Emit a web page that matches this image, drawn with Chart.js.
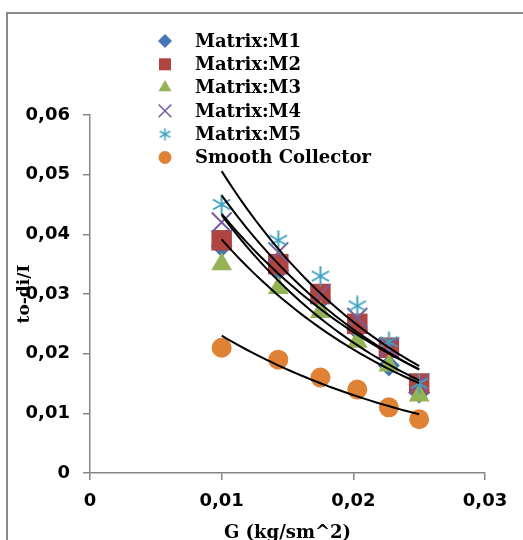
<!DOCTYPE html>
<html>
<head>
<meta charset="utf-8">
<script src="https://cdn.jsdelivr.net/npm/chart.js@4.4.1/dist/chart.umd.min.js"></script>
<style>
  html, body { margin: 0; padding: 0; background: #fff; overflow: hidden; }
  canvas { display: block; }
</style>
</head>
<body>
<canvas id="chart" width="523" height="540"></canvas>
<script>
// mass flux G and the measured ratio for each collector
const gValues = [0.01, 0.0143, 0.0175, 0.0203, 0.0227, 0.025]
const m1 = [0.038, 0.034, 0.029, 0.024, 0.018, 0.0135]
const m2 = [0.039, 0.035, 0.030, 0.025, 0.021, 0.015]
const m3 = [0.035, 0.031, 0.027, 0.022, 0.018, 0.013]
const m4 = [0.042, 0.037, 0.030, 0.026, 0.021, 0.015]
const m5 = [0.045, 0.039, 0.033, 0.028, 0.022, 0.015]
const smooth = [0.021, 0.019, 0.016, 0.014, 0.011, 0.009]
const seriesNames = ['Matrix:M1', 'Matrix:M2', 'Matrix:M3', 'Matrix:M4', 'Matrix:M5', 'Smooth Collector']
const xTickLabels = ['0', '0,01', '0,02', '0,03']
const yTickLabels = ['0', '0,01', '0,02', '0,03', '0,04', '0,05', '0,06']

const serif = '"DejaVu Serif", serif'
const sans = '"DejaVu Sans", Verdana, sans-serif'

// six-armed asterisk marker (vertical bar + two 30 degree arms)
function asterisk(size, color, lw) {
    const c = document.createElement('canvas')
    c.width = c.height = size
    const g = c.getContext('2d')
    const h = size / 2, r = h - 0.5
    g.strokeStyle = color
    g.lineWidth = lw
    g.beginPath()
    g.moveTo(h, h - r); g.lineTo(h, h + r)
    const dx = r * Math.cos(Math.PI / 6), dy = r * Math.sin(Math.PI / 6)
    g.moveTo(h - dx, h - dy); g.lineTo(h + dx, h + dy)
    g.moveTo(h - dx, h + dy); g.lineTo(h + dx, h - dy)
    g.stroke()
    return c
}

// least squares exponential trend y = a*e^(b*x), sampled over the data range
function expTrend(xs, ys) {
    const n = xs.length
    const ly = ys.map(Math.log)
    const mx = xs.reduce((s, v) => s + v, 0) / n
    const my = ly.reduce((s, v) => s + v, 0) / n
    let sxy = 0, sxx = 0
    xs.forEach((x, i) => { sxy += (x - mx) * (ly[i] - my); sxx += (x - mx) * (x - mx) })
    const b = sxy / sxx
    const a = Math.exp(my - b * mx)
    const lo = Math.min(...xs), hi = Math.max(...xs)
    const pts = []
    for (let k = 0; k <= 40; k++) {
        const x = lo + (hi - lo) * k / 40
        pts.push({ x: x, y: a * Math.exp(b * x) })
    }
    return pts
}

const colors = ['#4676B5', '#B0443F', '#93B354', '#7A5C9C', '#40A3C0', '#E08236']
const star = asterisk(21, colors[4], 2)
const starSmall = asterisk(13, colors[4], 1.6)

const series = [
    { data: m1, style: 'rectRot', radius: 11, legendRadius: 7, order: 6 },
    { data: m2, style: 'rect', radius: 14.5, legendRadius: 8.5, order: 5 },
    { data: m3, style: 'triangle', radius: 12, legendRadius: 7.5, order: 4 },
    { data: m4, style: 'crossRot', radius: 14, legendRadius: 9, order: 3 },
    { data: m5, style: star, legendStyle: starSmall, order: 2 },
    { data: smooth, style: 'circle', radius: 10, legendRadius: 6.5, order: 1 }
]

const datasets = []
series.forEach((s, i) => {
    datasets.push({
        label: seriesNames[i],
        data: gValues.map((g, k) => ({ x: g, y: s.data[k] })),
        pointStyle: s.style,
        pointRadius: s.radius || 10,
        backgroundColor: colors[i],
        borderColor: colors[i],
        borderWidth: s.style === 'crossRot' ? 2 : 0,
        order: s.order
    })
})
series.forEach((s, i) => {
    datasets.push({
        label: 'trend ' + seriesNames[i],
        data: expTrend(gValues, s.data),
        showLine: true,
        pointRadius: 0,
        borderColor: '#000',
        borderWidth: 2,
        fill: false,
        order: 0
    })
})

const framePlugin = {
    id: 'frame',
    beforeDraw(chart) {
        const ctx = chart.ctx
        ctx.save()
        ctx.strokeStyle = '#8a8a8a'
        ctx.lineWidth = 2
        ctx.strokeRect(7, 13, 700, 700)
        ctx.restore()
    },
    afterDraw(chart) {
        const ctx = chart.ctx
        const h = Chart.helpers
        // legend list, overlapping the top of the plot
        ctx.save()
        series.forEach((s, i) => {
            const y = 41 + i * 23.3
            ctx.fillStyle = colors[i]
            ctx.strokeStyle = colors[i]
            ctx.lineWidth = 1.6
            h.drawPoint(ctx, {
                pointStyle: s.legendStyle || s.style,
                radius: s.legendRadius || 6,
                rotation: 0,
                borderWidth: s.style === 'crossRot' ? 1.6 : 0
            }, 165, y)
            ctx.fillStyle = '#000'
            ctx.font = 'bold 18px ' + serif
            ctx.textBaseline = 'middle'
            ctx.textAlign = 'left'
            ctx.fillText(seriesNames[i], 195, y + 1)
        })
        // y axis title sits over the tick labels
        const ys = chart.scales.y
        ctx.translate(25, (ys.top + ys.bottom) / 2)
        ctx.rotate(-Math.PI / 2)
        ctx.textAlign = 'center'
        ctx.textBaseline = 'middle'
        ctx.font = 'bold 17px ' + serif
        ctx.fillStyle = '#000'
        ctx.fillText('to-di/I', 0, 0)
        ctx.restore()
    }
}

const ctx = document.getElementById('chart').getContext('2d')
const chart = new Chart(ctx, {
    type: 'scatter',
    data: { datasets: datasets },
    plugins: [framePlugin],
    options: {
        responsive: false,
        animation: false,
        layout: { padding: { top: 115, right: 38, left: 0, bottom: 0 } },
        plugins: { legend: { display: false }, tooltip: { enabled: false } },
        scales: {
            x: {
                type: 'linear',
                min: 0,
                max: 0.03,
                ticks: {
                    stepSize: 0.01,
                    padding: 11,
                    color: '#000',
                    font: { family: sans, size: 18, weight: 'bold' },
                    callback: (v, i) => xTickLabels[i]
                },
                grid: { drawOnChartArea: false, color: '#868686', lineWidth: 1.5, tickLength: 7 },
                border: { color: '#868686', width: 1.5 },
                title: {
                    display: true,
                    text: 'G (kg/sm^2)',
                    color: '#000',
                    font: { family: serif, size: 18, weight: 'bold' },
                    padding: { top: 0, bottom: -4 }
                },
                afterFit(s) { s.height = 67 }
            },
            y: {
                type: 'linear',
                min: 0,
                max: 0.06,
                ticks: {
                    stepSize: 0.01,
                    padding: 13,
                    color: '#000',
                    font: { family: sans, size: 18, weight: 'bold' },
                    callback: (v, i) => yTickLabels[i]
                },
                grid: { drawOnChartArea: false, color: '#868686', lineWidth: 1.5, tickLength: 7 },
                border: { color: '#868686', width: 1.5 },
                afterFit(s) { s.width = 90 }
            }
        }
    }
})
</script>
</body>
</html>
